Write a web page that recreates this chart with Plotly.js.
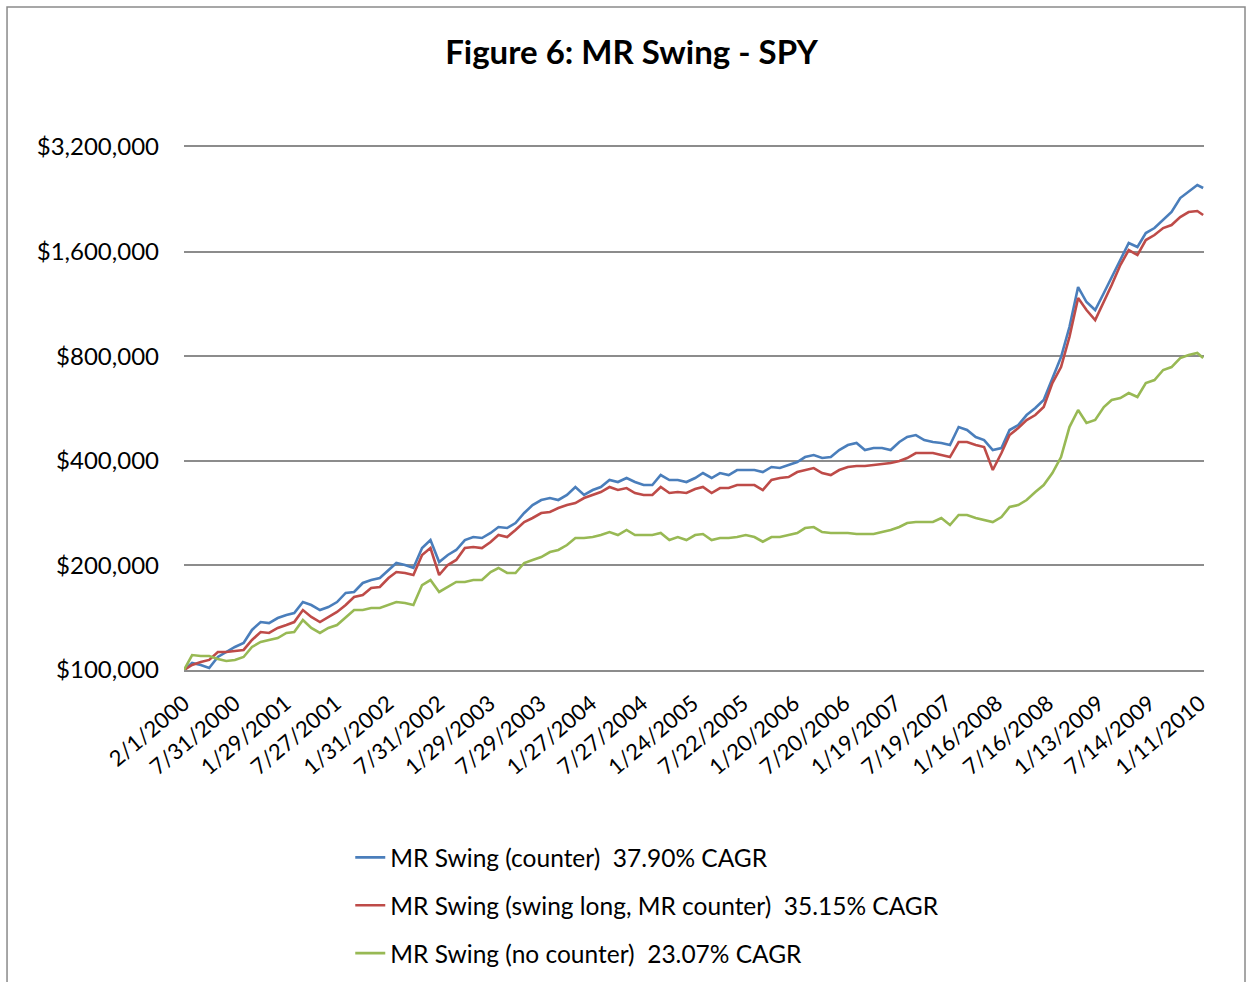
<!DOCTYPE html>
<html>
<head>
<meta charset="utf-8">
<script src="https://cdn.plot.ly/plotly-3.0.1.min.js"></script>
<style>
  html, body { margin: 0; padding: 0; background: #ffffff; }
  #chart { width: 1253px; height: 982px; }
</style>
</head>
<body>
<div id="chart"></div>
<script>
// Equity curves, read off the figure roughly once a month (Feb 2000 - Jan 2010)
const LAST_DATE = "2010-01-22";

const counterEquity = [
  100000, 104800, 103400, 101300, 109000, 112700, 116500, 119600, 130400, 137400,
  136500, 141100, 144000, 145900, 156900, 153800, 148800, 151800, 156900, 166600,
  167700, 178000, 181500, 184000, 194000, 203200, 200500, 196600, 224400, 236600,
  204500, 214300, 221500, 236600, 241400, 239800, 247900, 257900, 256200, 264900,
  283000, 298400, 308500, 312600, 308500, 318900, 336200, 318900, 329600, 336200,
  352200, 347500, 356900, 347500, 340700, 340700, 364000, 352200, 352200, 347500,
  356900, 368900, 356900, 368900, 364000, 376300, 376300, 376300, 371300, 383900,
  381300, 389000, 396800, 410100, 415600, 407400, 410100, 429600, 444100, 450000,
  429600, 435300, 435300, 429600, 453000, 468300, 474500, 459000, 453000, 450000,
  444100, 500300, 490500, 468300, 459000, 429600, 435300, 490500, 507000, 541700,
  567500, 598400, 692300, 795600, 970600, 1265200, 1145400, 1086300, 1215900, 1351800,
  1513000, 1693500, 1649200, 1809600, 1870400, 1972300, 2079600, 2281800, 2374300, 2487100,
  2438200,
];

const swingLongEquity = [
  100000, 103400, 105400, 106900, 112700, 112700, 113400, 114200, 122000, 128600,
  127800, 132100, 134700, 137400, 148800, 142100, 137400, 142100, 146900, 153800,
  162200, 164400, 172200, 173300, 184000, 191400, 190200, 187700, 214300, 224400,
  187700, 200500, 207300, 224400, 225900, 224400, 233500, 244600, 241400, 252900,
  266600, 273800, 283000, 284900, 292500, 298400, 302400, 312600, 318900, 325200,
  336200, 329600, 334000, 323100, 318900, 318900, 336200, 323100, 325200, 323100,
  331800, 336200, 323100, 334000, 334000, 340700, 340700, 340700, 329600, 352200,
  356900, 359200, 371300, 376300, 381300, 368900, 364000, 376300, 383900, 386400,
  386400, 389000, 391500, 394200, 399400, 407400, 421200, 421200, 421200, 415600,
  410100, 453000, 453000, 444100, 438200, 376300, 421200, 474500, 497000, 524100,
  541700, 571300, 669700, 744600, 908400, 1176300, 1086300, 1016700, 1145400, 1282100,
  1463700, 1616700, 1564000, 1727500, 1785700, 1870400, 1908000, 2011900, 2079600, 2093600,
  2038700,
];

const noCounterEquity = [
  100000, 110400, 109700, 109700, 107600, 106200, 106900, 109000, 116500, 120400,
  122000, 123600, 127800, 128600, 139300, 132100, 127800, 132100, 134700, 142100,
  148800, 148800, 150800, 150800, 153800, 156900, 155900, 153800, 175600, 181500,
  167700, 173300, 179200, 179200, 181500, 181500, 191400, 196600, 190200, 190200,
  203200, 207300, 211400, 218500, 221500, 228900, 239800, 239800, 241400, 244600,
  249500, 244600, 252900, 244600, 244600, 244600, 247900, 236600, 241400, 236600,
  244600, 246200, 236600, 239800, 239800, 241400, 244600, 241400, 234000, 241400,
  241400, 244600, 247900, 256200, 257900, 249500, 247900, 247900, 247900, 246200,
  246200, 246200, 249500, 252900, 257900, 264900, 266600, 266600, 266600, 273800,
  261400, 279300, 279300, 273800, 270200, 266600, 275600, 294500, 298400, 308500,
  325200, 340700, 368900, 410100, 500300, 560000, 513800, 524100, 571300, 598400,
  606300, 626800, 610400, 669700, 683200, 730000, 744600, 790400, 806200, 817000,
  790400,
];

const seriesNames = [
  "MR Swing (counter)\u00a0 37.90% CAGR",
  "MR Swing (swing long, MR counter)\u00a0 35.15% CAGR",
  "MR Swing (no counter)\u00a0 23.07% CAGR",
];

const dateLabels = [
  "2/1/2000", "7/31/2000", "1/29/2001", "7/27/2001", "1/31/2002", "7/31/2002",
  "1/29/2003", "7/29/2003", "1/27/2004", "7/27/2004", "1/24/2005", "7/22/2005",
  "1/20/2006", "7/20/2006", "1/19/2007", "7/19/2007", "1/16/2008", "7/16/2008",
  "1/13/2009", "7/14/2009", "1/11/2010",
];

const moneyTicks = [100000, 200000, 400000, 800000, 1600000, 3200000];
const moneyLabels = ["$100,000", "$200,000", "$400,000", "$800,000", "$1,600,000", "$3,200,000"];

const COLORS = ["#4a7ebb", "#be4b48", "#98b954"];
const FONT = "Lato, 'Open Sans', sans-serif";

// month starts Feb 2000 .. Jan 2010, plus the last bar of the test
function buildDates() {
  const out = [];
  for (let i = 0; i < 120; i++) {
    const year = 2000 + Math.floor((1 + i) / 12);
    const month = ((1 + i) % 12) + 1;
    out.push(`${year}-${String(month).padStart(2, "0")}-01`);
  }
  out.push(LAST_DATE);
  return out;
}

// "7/31/2000" -> "2000-07-31"
function toIso(label) {
  const [m, d, y] = label.split("/");
  return `${y}-${m.padStart(2, "0")}-${d.padStart(2, "0")}`;
}

const dates = buildDates();
const curves = [counterEquity, swingLongEquity, noCounterEquity];

const traces = curves.map((values, i) => ({
  x: dates,
  y: values,
  type: "scatter",
  mode: "lines",
  name: seriesNames[i],
  legendgroup: "g" + i,
  line: { color: COLORS[i], width: 2.6 },
  hoverinfo: "skip",
}));

const layout = {
  width: 1253,
  height: 982,
  margin: { l: 184, r: 49, t: 147, b: 312 },
  paper_bgcolor: "#ffffff",
  plot_bgcolor: "#ffffff",
  font: { family: FONT, color: "#000000" },
  title: {
    text: "Figure 6: MR Swing - SPY",
    x: 0.504,
    xanchor: "center",
    yref: "container",
    y: 0.947,
    yanchor: "middle",
    font: { family: FONT, size: 33, weight: 700, color: "#000000" },
  },
  xaxis: {
    type: "date",
    range: ["2000-02-01", "2010-01-25"],
    tickvals: dateLabels.map(toIso),
    ticktext: dateLabels,
    tickangle: -40,
    tickfont: { family: FONT, size: 22, color: "#000000" },
    ticklabelstandoff: 10,
    showgrid: false,
    zeroline: false,
    showline: true,
    mirror: true,
    linecolor: "#8c8c8c",
    linewidth: 2,
    ticks: "",
    automargin: false,
  },
  yaxis: {
    type: "log",
    range: [5, Math.log10(3200000)],
    tickvals: moneyTicks,
    ticktext: moneyLabels,
    tickfont: { family: FONT, size: 24, color: "#000000" },
    ticklabelstandoff: 24,
    showgrid: true,
    gridcolor: "#8c8c8c",
    gridwidth: 2,
    zeroline: false,
    showline: false,
    ticks: "",
    automargin: false,
  },
  showlegend: true,
  legend: {
    xref: "paper",
    x: 0.163,
    yref: "container",
    y: 0.1497,
    xanchor: "left",
    yanchor: "top",
    orientation: "v",
    traceorder: "grouped",
    tracegroupgap: 13,
    bgcolor: "rgba(0,0,0,0)",
    font: { family: FONT, size: 24.5, color: "#000000" },
  },
  shapes: [
    {
      // chart area frame
      type: "rect",
      xref: "paper",
      yref: "paper",
      x0: -0.1735,
      x1: 1.0402,
      y0: -0.7,
      y1: 1.2677,
      line: { color: "#8a8a8a", width: 1.5 },
      fillcolor: "rgba(0,0,0,0)",
      layer: "below",
    },
  ],
};

Plotly.newPlot("chart", traces, layout, { displayModeBar: false, staticPlot: true });
</script>
</body>
</html>
